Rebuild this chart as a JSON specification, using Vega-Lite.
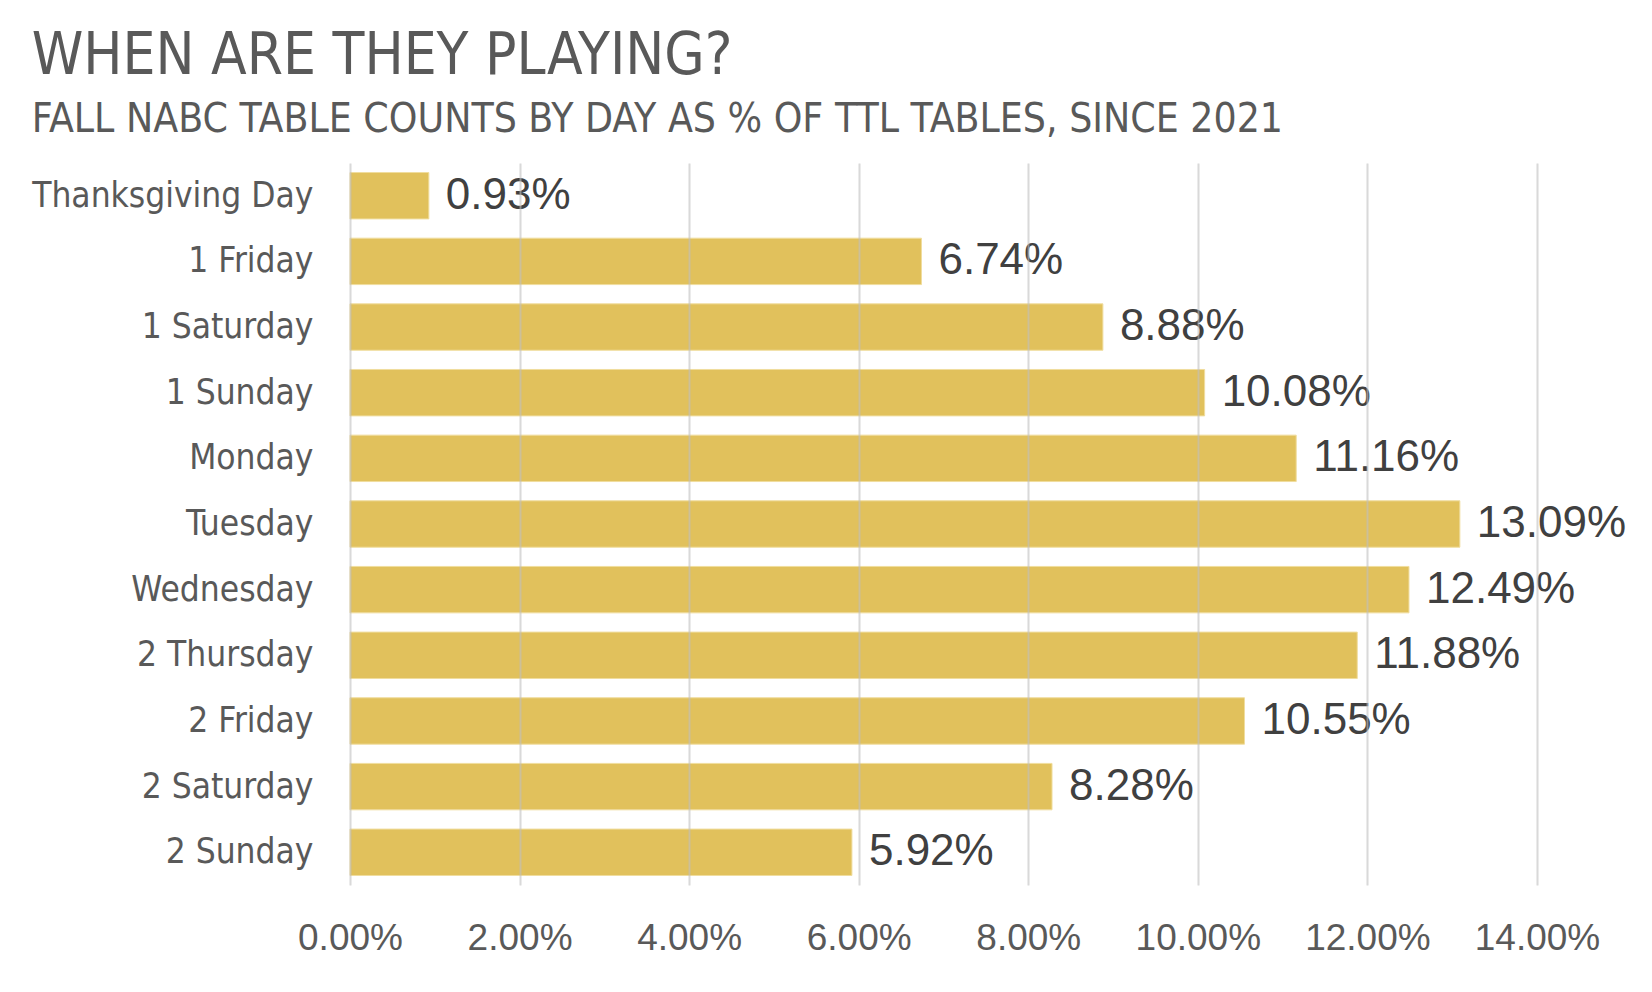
{
  "$schema": "https://vega.github.io/schema/vega-lite/v6.json",
  "title": {
    "text": "WHEN ARE THEY PLAYING?",
    "subtitle": "FALL NABC TABLE COUNTS BY DAY AS % OF TTL TABLES, SINCE 2021",
    "anchor": "start",
    "frame": "bounds",
    "font": "'DejaVu Sans Condensed', Roboto, sans-serif",
    "fontSize": 58,
    "fontWeight": "normal",
    "color": "#595959",
    "subtitleFont": "'DejaVu Sans Condensed', Roboto, sans-serif",
    "subtitleFontSize": 40.5,
    "subtitleColor": "#595959",
    "subtitlePadding": 14,
    "offset": 23
  },
  "width": 1187,
  "height": 722,
  "padding": {"left": 31, "top": 27, "right": 10, "bottom": 10},
  "background": "white",
  "data": {
    "values": [
      {"day": "Thanksgiving Day", "share": 0.0093},
      {"day": "1 Friday", "share": 0.0674},
      {"day": "1 Saturday", "share": 0.0888},
      {"day": "1 Sunday", "share": 0.1008},
      {"day": "Monday", "share": 0.1116},
      {"day": "Tuesday", "share": 0.1309},
      {"day": "Wednesday", "share": 0.1249},
      {"day": "2 Thursday", "share": 0.1188},
      {"day": "2 Friday", "share": 0.1055},
      {"day": "2 Saturday", "share": 0.0828},
      {"day": "2 Sunday", "share": 0.0592}
    ]
  },
  "encoding": {
    "y": {
      "field": "day",
      "type": "nominal",
      "sort": null,
      "title": null,
      "scale": {"paddingInner": 0.293, "paddingOuter": 0.145},
      "axis": {
        "domain": false,
        "ticks": false,
        "labelFont": "'DejaVu Sans Condensed', Roboto, sans-serif",
        "labelFontSize": 35,
        "labelColor": "#595959",
        "labelPadding": 37,
        "labelLimit": 0
      }
    },
    "x": {
      "field": "share",
      "type": "quantitative",
      "title": null,
      "scale": {"domain": [0, 0.14], "nice": false},
      "axis": {
        "values": [0, 0.02, 0.04, 0.06, 0.08, 0.1, 0.12, 0.14],
        "format": ".2%",
        "domain": false,
        "ticks": false,
        "grid": true,
        "gridColor": "#bfbfbf",
        "gridOpacity": 0.6,
        "gridWidth": 2,
        "zindex": 1,
        "labelFont": "Liberation Sans",
        "labelFontSize": 37,
        "labelColor": "#595959",
        "labelPadding": 35,
        "labelOverlap": false,
        "labelFlush": false
      }
    }
  },
  "layer": [
    {"mark": {"type": "bar", "color": "#E1C15C", "stroke": "#F0DD9E", "strokeWidth": 1}},
    {
      "mark": {
        "type": "text",
        "align": "left",
        "baseline": "middle",
        "dx": 17,
        "font": "Liberation Sans",
        "fontSize": 44,
        "color": "#404040"
      },
      "encoding": {
        "text": {"field": "share", "type": "quantitative", "format": ".2%"}
      }
    }
  ],
  "config": {"view": {"stroke": null}}
}
